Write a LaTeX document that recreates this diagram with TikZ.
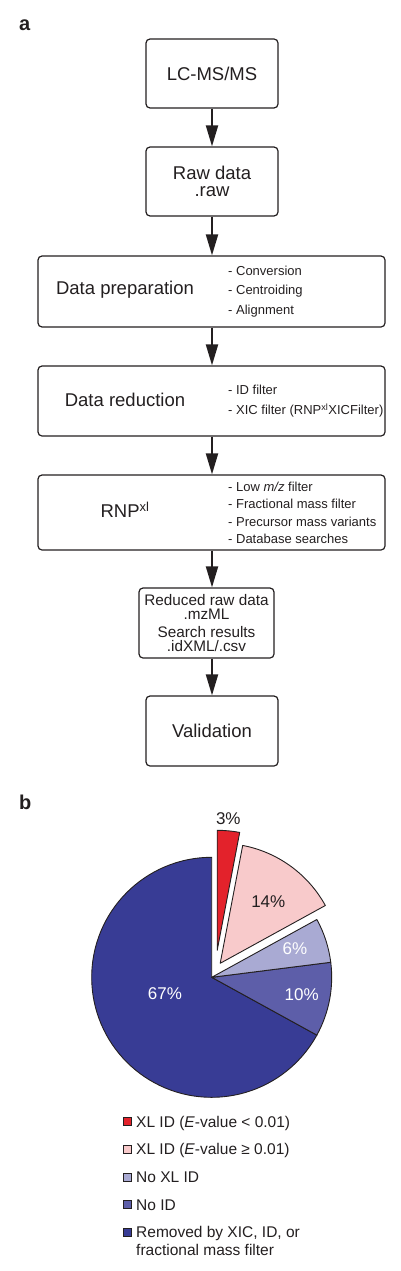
\documentclass[tikz,border=0pt]{standalone}
\usepackage{fontspec}
\setmainfont{Liberation Sans}
\usetikzlibrary{arrows.meta}
\definecolor{ink}{HTML}{231F20}
\definecolor{pieRed}{HTML}{E3222B}
\definecolor{piePink}{HTML}{F8CACB}
\definecolor{pieLight}{HTML}{A9AAD3}
\definecolor{pieMid}{HTML}{5D5EA9}
\definecolor{pieDark}{HTML}{383C95}
\tikzset{
  box/.style={draw=ink, line width=1.2pt, rounded corners=4pt, inner sep=0pt,
    text=ink, align=center, font=\fontsize{18.5}{16.5}\selectfont},
  flow/.style={draw=ink, line width=2pt, -{Triangle[length=21pt,width=12pt]}},
  bigtext/.style={text=ink, font=\fontsize{18.5}{20}\selectfont},
  bullets/.style={text=ink, align=left, anchor=west, inner sep=0pt},
  piepart/.style={draw=ink, line width=0.9pt, line join=round},
  pct/.style={font=\fontsize{17}{18}\selectfont},
  key/.style={draw=ink, line width=0.5pt, minimum size=8pt, inner sep=0pt},
  keytext/.style={text=ink, anchor=base west, inner sep=0pt, font=\fontsize{15.5}{18}\selectfont},
  panel/.style={text=ink, anchor=base west, inner sep=0pt, font=\fontsize{20}{20}\selectfont\bfseries}
}
\begin{document}
\begin{tikzpicture}[x=1pt,y=1pt]
\useasboundingbox (0,0) rectangle (400,-1271);
\node[panel] (pa) at (19,-31) {a};
\node[panel] (pb) at (19,-809) {b};
% flow chart
\node[box, minimum width=132pt, minimum height=69pt] (lcms) at (212,-73.5) {LC-MS/MS};
\node[box, minimum width=132pt, minimum height=69pt] (raw) at (212,-181.5) {Raw data\\.raw};
\node[box, minimum width=347pt, minimum height=71pt] (prep) at (211.5,-291.5) {};
\node[box, minimum width=347pt, minimum height=70pt] (reduct) at (211.5,-401) {};
\node[box, minimum width=347pt, minimum height=75pt] (rnp) at (211.5,-512.5) {};
\node[box, minimum width=135pt, minimum height=70pt, font=\fontsize{15.3}{14}\selectfont] (reduced) at (206.5,-623)
  {Reduced raw data\\.mzML\\[4pt]Search results\\.idXML/.csv};
\node[box, minimum width=132pt, minimum height=70pt] (valid) at (212,-731) {Validation};
\node[bigtext] (preptxt) at (125,-290) {Data preparation};
\node[bigtext] (reducttxt) at (125,-400) {Data reduction};
\node[bigtext] (rnptxt) at (125,-510) {RNP\textsuperscript{xl}};
\node[bullets, font=\fontsize{13}{19.5}\selectfont] (preplist) at (228,-291.5)
  {- Conversion\\- Centroiding\\- Alignment};
\node[bullets, font=\fontsize{13}{20}\selectfont] (reductlist) at (228,-401)
  {- ID filter\\- XIC filter (RNP\textsuperscript{xl}XICFilter)};
\node[bullets, font=\fontsize{13}{17.5}\selectfont] (rnplist) at (228,-513)
  {- Low \textit{m/z} filter\\- Fractional mass filter\\- Precursor mass variants\\- Database searches};
\draw[flow] (lcms) -- (raw);
\draw[flow] (raw.south) -- (prep.north -| raw.south);
\draw[flow] (prep.south -| raw.south) -- (reduct.north -| raw.south);
\draw[flow] (reduct.south -| raw.south) -- (rnp.north -| raw.south);
\draw[flow] (rnp.south -| raw.south) -- (reduced.north -| raw.south);
\draw[flow] (reduced.south -| raw.south) -- (valid.north);
% pie chart
\def\wedge#1#2{(0,0) -- (#1:120) arc[start angle=#1, end angle=#2, radius=120] -- cycle}
\begin{scope}[shift={(211.7,-977.3)}]
  \filldraw[piepart, fill=pieDark] \wedge{90}{331.2};
  \filldraw[piepart, fill=pieMid] \wedge{-28.8}{7.2};
  \filldraw[piepart, fill=pieLight] \wedge{7.2}{28.8};
  \filldraw[piepart, fill=piePink, shift={(8.5,14)}] \wedge{28.8}{79.2};
  \filldraw[piepart, fill=pieRed, shift={(5.5,27)}] \wedge{79.2}{90};
\end{scope}
\node[pct, text=ink] (p3) at (228.3,-818.3) {3\%};
\node[pct, text=ink] (p14) at (268.3,-901.7) {14\%};
\node[pct, text=white] (p6) at (295,-948.3) {6\%};
\node[pct, text=white] (p10) at (301.7,-995) {10\%};
\node[pct, text=white] (p67) at (165,-993.3) {67\%};
% legend
\node[key, fill=pieRed] (k1) at (127,-1121.5) {};
\node[key, fill=piePink] (k2) at (127,-1149) {};
\node[key, fill=pieLight] (k3) at (127,-1177) {};
\node[key, fill=pieMid] (k4) at (127,-1204.5) {};
\node[key, fill=pieDark] (k5) at (127,-1232) {};
\node[keytext] (t1) at (136,-1127) {XL ID (\textit{E}-value < 0.01)};
\node[keytext] (t2) at (136,-1154.5) {XL ID (\textit{E}-value ≥ 0.01)};
\node[keytext] (t3) at (136,-1182.5) {No XL ID};
\node[keytext] (t4) at (136,-1210) {No ID};
\node[keytext] (t5) at (136,-1237.5) {Removed by XIC, ID, or};
\node[keytext] (t6) at (136,-1255.5) {fractional mass filter};
\end{tikzpicture}
\end{document}
